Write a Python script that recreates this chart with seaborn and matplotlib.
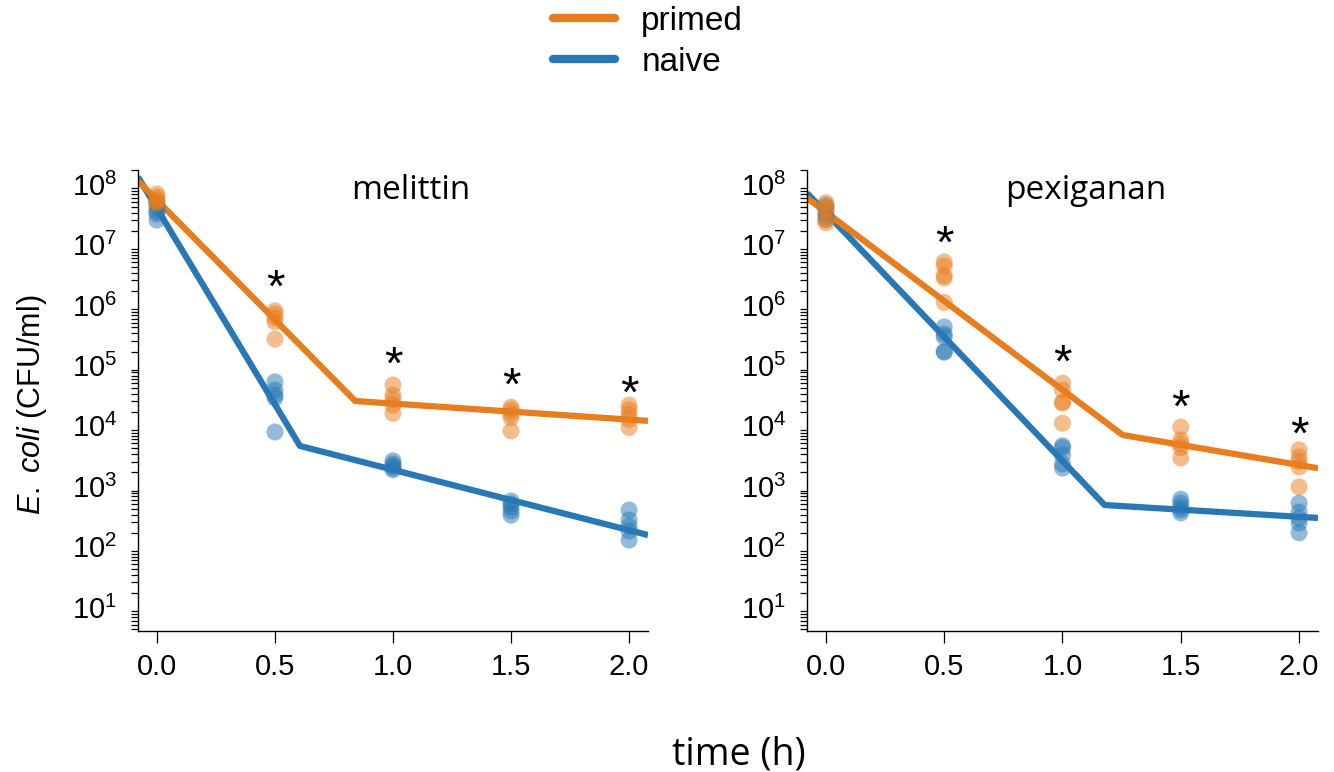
import numpy as np
import pandas as pd
import matplotlib
matplotlib.use("Agg")
import matplotlib.pyplot as plt
import seaborn as sns
from matplotlib.lines import Line2D
from matplotlib.ticker import FixedLocator, NullFormatter

# ---------------- data ----------------
times = [0.0, 0.5, 1.0, 1.5, 2.0]
groups = ["primed", "naive"]

mel_primed = [[8.1e7, 7.2e7, 6.5e7, 6.0e7, 5.8e7],
              [9.4e5, 8.4e5, 7.2e5, 6.2e5, 3.2e5],
              [5.6e4, 3.8e4, 3.2e4, 2.6e4, 1.9e4],
              [2.4e4, 2.15e4, 1.85e4, 1.6e4, 9.7e3],
              [2.6e4, 2.15e4, 1.8e4, 1.5e4, 1.1e4]]
mel_naive = [[5.8e7, 4.9e7, 4.2e7, 3.8e7, 3.0e7],
             [6.3e4, 4.6e4, 3.8e4, 3.4e4, 9.3e3],
             [3.1e3, 2.75e3, 2.55e3, 2.35e3, 2.2e3],
             [670, 600, 530, 460, 390],
             [475, 325, 258, 213, 151]]
pex_primed = [[5.8e7, 4.9e7, 4.4e7, 3.0e7, 2.7e7],
              [6.1e6, 5.2e6, 3.6e6, 3.3e6, 1.3e6],
              [6.0e4, 4.6e4, 2.9e4, 2.8e4, 1.3e4],
              [1.12e4, 6.9e3, 5.9e3, 5.1e3, 3.45e3],
              [4.7e3, 3.6e3, 3.0e3, 2.45e3, 1.15e3]]
pex_naive = [[5.3e7, 4.75e7, 3.9e7, 3.5e7, 3.1e7],
             [5.1e5, 3.9e5, 3.5e5, 2.0e5, 1.95e5],
             [5.5e3, 5.1e3, 3.9e3, 2.75e3, 2.35e3],
             [720, 620, 530, 475, 425],
             [620, 440, 350, 290, 200]]

# piecewise model fits (time, CFU/ml)
mel_primed_fit_t = [-0.08, 0.84, 2.08]
mel_primed_fit_y = [1.33e8, 3.03e4, 1.42e4]
mel_naive_fit_t = [-0.08, 0.606, 2.08]
mel_naive_fit_y = [1.55e8, 5.46e3, 183]
pex_primed_fit_t = [-0.08, 1.254, 2.08]
pex_primed_fit_y = [6.97e7, 8.3e3, 2.34e3]
pex_naive_fit_t = [-0.08, 1.178, 2.08]
pex_naive_fit_y = [8.4e7, 575, 351]

star_times = [0.5, 1.0, 1.5, 2.0]
mel_star_y = [2.08e6, 1.11e5, 4.98e4, 3.66e4]
pex_star_y = [1.12e7, 1.19e5, 2.15e4, 7.67e3]

panel_titles = ["melittin", "pexiganan"]
xtick_labels = ["0.0", "0.5", "1.0", "1.5", "2.0"]
ytick_exps = [1, 2, 3, 4, 5, 6, 7, 8]

# ---------------- style ----------------
sns.set_theme(style="ticks")
plt.rcParams["font.family"] = ["Liberation Sans", "DejaVu Sans"]
plt.rcParams["mathtext.fontset"] = "custom"
plt.rcParams["mathtext.rm"] = "Liberation Sans"
plt.rcParams["mathtext.it"] = "Liberation Sans:italic"
plt.rcParams["mathtext.bf"] = "Liberation Sans:bold"
for key in ("text.color", "axes.labelcolor", "xtick.color", "ytick.color",
            "axes.edgecolor"):
    plt.rcParams[key] = "black"

ORANGE = "#E87D1E"
BLUE = "#2878B5"
palette = {"primed": ORANGE, "naive": BLUE}

W, H = 1334, 772
fig = plt.figure(figsize=(W / 100, H / 100), dpi=100)
ax1 = fig.add_axes([138 / W, (H - 631) / H, 510 / W, 461 / H])
ax2 = fig.add_axes([807 / W, (H - 631) / H, 511 / W, 461 / H])

LOG_LO, LOG_HI = 0.674, 8.306
LABEL_SHIFT = 0.07  # decades; labels sit a bit above their ticks in the reference
title_x = [0.535, 0.546]


def long_points(primed, naive):
    rows = []
    for g, arr in (("naive", naive), ("primed", primed)):
        for t, vals in zip(times, arr):
            for v in vals:
                rows.append({"t": t, "cfu": v, "group": g})
    return pd.DataFrame(rows)


def fit_frame(pt, py, nt, ny):
    rows = [{"t": t, "cfu": v, "group": "naive"} for t, v in zip(nt, ny)]
    rows += [{"t": t, "cfu": v, "group": "primed"} for t, v in zip(pt, py)]
    return pd.DataFrame(rows)


panels = [
    (ax1, mel_primed, mel_naive,
     (mel_primed_fit_t, mel_primed_fit_y, mel_naive_fit_t, mel_naive_fit_y), mel_star_y),
    (ax2, pex_primed, pex_naive,
     (pex_primed_fit_t, pex_primed_fit_y, pex_naive_fit_t, pex_naive_fit_y), pex_star_y),
]

for i, (ax, pr, nv, fits, stars) in enumerate(panels):
    ax.set_yscale("log")
    fdf = fit_frame(*fits)
    sns.lineplot(data=fdf, x="t", y="cfu", hue="group", hue_order=["naive", "primed"],
                 palette=palette, lw=4.5, estimator=None, sort=False, legend=False,
                 ax=ax, solid_capstyle="butt")
    pdf = long_points(pr, nv)
    sns.scatterplot(data=pdf, x="t", y="cfu", hue="group", hue_order=["naive", "primed"],
                    palette=palette, s=150, alpha=0.5, linewidth=0, legend=False, ax=ax,
                    zorder=3)
    for t, y in zip(star_times, stars):
        ax.text(t, y, "*", ha="center", va="center", fontsize=34, color="black")

    ax.set_xlim(-0.08, 2.08)
    ax.set_ylim(10 ** LOG_LO, 10 ** LOG_HI)
    sns.despine(ax=ax)
    for s in ("left", "bottom"):
        ax.spines[s].set_linewidth(1.0)
        ax.spines[s].set_color("black")

    ax.set_xticks(times)
    ax.set_xticklabels(xtick_labels, fontsize=21)
    ax.tick_params(axis="x", direction="out", length=8.6, width=0.9, pad=7, color="black")

    # y: labels on (shifted) major positions, all real ticks as minor
    ax.yaxis.set_major_locator(FixedLocator([10 ** (e + LABEL_SHIFT) for e in ytick_exps]))
    ax.set_yticklabels([f"$10^{{{e}}}$" for e in ytick_exps], fontsize=21)
    minor = [m * 10.0 ** k for k in range(0, 9) for m in range(1, 10)
             if LOG_LO <= np.log10(m * 10.0 ** k) <= LOG_HI]
    ax.yaxis.set_minor_locator(FixedLocator(minor))
    ax.yaxis.set_minor_formatter(NullFormatter())
    ax.tick_params(axis="y", which="major", length=0, pad=15)
    ax.tick_params(axis="y", which="minor", direction="out", length=5, width=0.9,
                   color="black")
    ax.set_xlabel("")
    ax.set_ylabel("")
    ax.text(title_x[i], 0.955, panel_titles[i], transform=ax.transAxes, ha="center",
            va="center", fontsize=24, family=["Open Sans", "DejaVu Sans"])

fig.text(32 / W, 1 - 405 / H, r"$\mathit{E.\ coli}$ (CFU/ml)", rotation=90,
         ha="center", va="center", fontsize=22)
fig.text(739 / W, 1 - 754 / H, "time (h)", ha="center", va="center", fontsize=27,
         family=["Open Sans", "DejaVu Sans"])

handles = [Line2D([], [], color=ORANGE, lw=6, solid_capstyle="round"),
           Line2D([], [], color=BLUE, lw=6, solid_capstyle="round")]
fig.legend(handles, ["primed", "naive"], loc="center", bbox_to_anchor=(648 / W, 1 - 42 / H),
           frameon=False, fontsize=24, handlelength=1.85, handletextpad=0.8,
           labelspacing=0.3, borderpad=0)

fig.savefig("out.png", dpi=100)
